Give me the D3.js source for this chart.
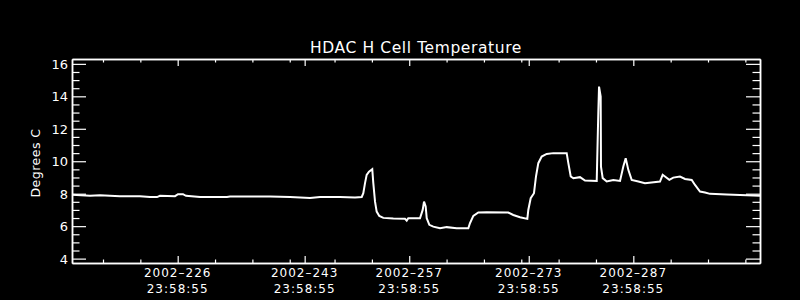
<!DOCTYPE html>
<html>
<head>
<meta charset="utf-8">
<script src="https://cdn.jsdelivr.net/npm/d3@7"></script>
<style>
  body { margin: 0; background: #000; }
  svg text { fill: #fff; font-family: "DejaVu Sans", sans-serif; }
</style>
</head>
<body>
<div id="chart"></div>
<script>
// day of year 2002 (fractional) and temperature in degrees C
var days = [212.85, 215.26, 216.6, 219.27, 221.95, 223.29, 224.23, 224.63, 226.64, 227.04,
  227.71, 228.11, 229.99, 233.6, 234.0, 237.62, 239.36, 242.04, 244.72, 246.05,
  248.73, 250.74, 251.64, 251.85, 252.08, 252.30, 252.61, 253.05, 253.19, 253.42,
  253.64, 253.99, 254.53, 255.87, 257.43, 257.66, 257.87, 259.44, 259.80, 259.98,
  260.20, 260.34, 260.69, 261.22, 262.12, 263.02, 264.35, 265.91, 266.13, 266.58,
  267.25, 268.37, 271.26, 271.93, 272.83, 273.81, 273.94, 274.26, 274.70, 274.97,
  275.28, 275.73, 276.40, 277.29, 279.08, 279.30, 279.62, 279.97, 280.86, 281.53,
  283.10, 283.31, 283.41, 283.63, 283.67, 283.90, 284.44, 285.32, 286.22, 286.66,
  286.98, 287.33, 287.78, 288.67, 289.56, 291.57, 291.93, 292.24, 292.82, 293.35,
  294.25, 294.92, 295.82, 296.26, 296.93, 297.60, 298.27, 300.50, 303.18, 304.96]
var temps = [7.93, 7.87, 7.90, 7.85, 7.85, 7.79, 7.79, 7.87, 7.85, 7.97,
  7.97, 7.87, 7.80, 7.79, 7.82, 7.82, 7.82, 7.80, 7.74, 7.79,
  7.79, 7.77, 7.80, 8.03, 8.65, 9.16, 9.36, 9.51, 8.65, 7.51,
  6.90, 6.63, 6.51, 6.47, 6.45, 6.34, 6.49, 6.49, 7.00, 7.51,
  7.21, 6.49, 6.08, 5.97, 5.87, 5.94, 5.87, 5.87, 6.18, 6.63,
  6.84, 6.86, 6.84, 6.69, 6.55, 6.45, 7.00, 7.72, 8.03, 9.06,
  9.88, 10.29, 10.45, 10.50, 10.50, 9.88, 9.06, 8.96, 9.02, 8.81,
  8.79, 12.96, 14.60, 13.99, 9.67, 8.96, 8.75, 8.85, 8.79, 9.67,
  10.19, 9.47, 8.85, 8.75, 8.65, 8.75, 9.16, 9.06, 8.85, 8.99,
  9.06, 8.91, 8.85, 8.54, 8.13, 8.07, 7.99, 7.95, 7.91, 7.87]

// x axis: labelled ticks at 23:58:55 of these days, plus minor ticks
var majorDays = [226, 243, 257, 273, 287]
var majorTime = "23:58:55"
var minorDays = [217, 222, 232, 237, 242, 248, 253, 263, 268, 273, 278, 283, 293, 298, 303]
var xDomain = [212.85, 304.96]

// y axis
var yMajor = [4, 6, 8, 10, 12, 14, 16]
var yMinor = d3.range(4, 16.01, 0.5).filter(function(v){ return v % 2 != 0 })
var yDomain = [3.73, 16.3]

var chartTitle = "HDAC H Cell Temperature"
var yTitle = "Degrees C"

var width = 800, height = 300
var pLeft = 72, pRight = 760, pTop = 59, pBottom = 263

var svg = d3.select("#chart").append("svg")
  .attr("width", width)
  .attr("height", height)
svg.append("rect").attr("width", width).attr("height", height).attr("fill", "#000")

var x = d3.scaleLinear().domain(xDomain).range([pLeft, pRight])
var y = d3.scaleLinear().domain(yDomain).range([pBottom, pTop])

function secs(t){ var p = t.split(":"); return (+p[0]*3600 + +p[1]*60 + +p[2]) / 86400 }
var majorT = majorDays.map(function(d){ return d + secs(majorTime) })

// bottom axis
var gx = svg.append("g").attr("transform", "translate(0," + pBottom + ")")
  .call(d3.axisBottom(x).tickValues(majorT).tickSize(-7).tickSizeOuter(0).tickFormat(""))
gx.append("g").call(d3.axisBottom(x).tickValues(minorDays).tickSize(-3.5).tickSizeOuter(0).tickFormat(""))
// top axis (mirror)
var gt = svg.append("g").attr("transform", "translate(0," + pTop + ")")
  .call(d3.axisTop(x).tickValues(majorT).tickSize(-7).tickSizeOuter(0).tickFormat(""))
gt.append("g").call(d3.axisTop(x).tickValues(minorDays).tickSize(-3.5).tickSizeOuter(0).tickFormat(""))

// left + right axis
var gy = svg.append("g").attr("transform", "translate(" + pLeft + ",0)")
  .call(d3.axisLeft(y).tickValues(yMajor).tickSize(-14).tickSizeOuter(0).tickFormat(""))
gy.append("g").call(d3.axisLeft(y).tickValues(yMinor).tickSize(-7.5).tickSizeOuter(0).tickFormat(""))
var gr = svg.append("g").attr("transform", "translate(" + pRight + ",0)")
  .call(d3.axisRight(y).tickValues(yMajor).tickSize(-14).tickSizeOuter(0).tickFormat(""))
gr.append("g").call(d3.axisRight(y).tickValues(yMinor).tickSize(-7.5).tickSizeOuter(0).tickFormat(""))

svg.selectAll(".tick text").remove()
svg.selectAll(".domain").attr("stroke", "#fff").attr("stroke-width", 1.5)
svg.selectAll(".tick line").attr("stroke", "#fff").attr("stroke-width", 1.2)

// tick labels
svg.selectAll(".ylab").data(yMajor).enter().append("text")
  .attr("class", "ylab")
  .attr("x", pLeft - 4)
  .attr("y", function(d){ return y(d) + 5 })
  .attr("text-anchor", "end")
  .attr("font-size", 13)
  .text(function(d){ return d })

var xl = svg.selectAll(".xlab").data(majorDays).enter().append("text")
  .attr("class", "xlab")
  .attr("text-anchor", "middle")
  .attr("font-size", 12)
  .attr("letter-spacing", 1)
xl.append("tspan")
  .attr("x", function(d, i){ return x(majorT[i]) })
  .attr("y", 277)
  .text(function(d){ return "2002\u2013" + d })
xl.append("tspan")
  .attr("x", function(d, i){ return x(majorT[i]) })
  .attr("y", 293)
  .text(majorTime)

// titles
svg.append("text")
  .attr("x", (pLeft + pRight) / 2)
  .attr("y", 53)
  .attr("text-anchor", "middle")
  .attr("font-size", 15.5)
  .attr("letter-spacing", 0.6)
  .text(chartTitle)
svg.append("text")
  .attr("transform", "translate(40,163) rotate(-90)")
  .attr("text-anchor", "middle")
  .attr("font-size", 12.5)
  .attr("letter-spacing", 0.5)
  .text(yTitle)

// data line
var line = d3.line()
  .x(function(d, i){ return x(days[i]) })
  .y(function(d){ return y(d) })
svg.append("path")
  .datum(temps)
  .attr("d", line)
  .attr("fill", "none")
  .attr("stroke", "#fff")
  .attr("stroke-width", 2)
</script>
</body>
</html>
